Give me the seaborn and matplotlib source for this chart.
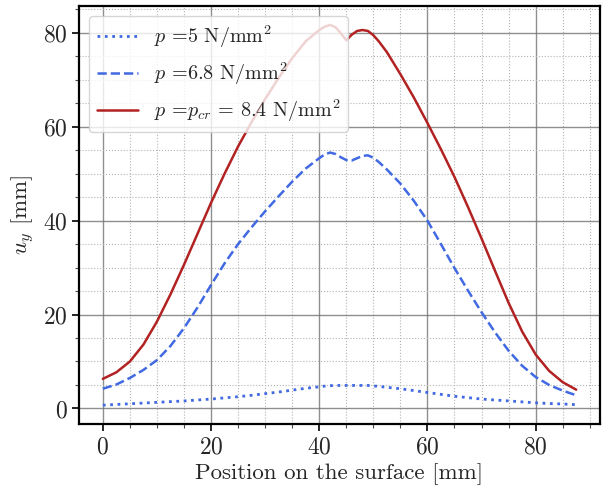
import pandas as pd
import seaborn as sns
from matplotlib import pyplot as plt
from matplotlib.ticker import MultipleLocator

# positions along the surface [mm]
position = [0, 2.5, 5, 7.5, 10, 12.5, 15, 17.5, 20, 22.5, 25, 27.5, 30, 32.5, 35, 37.5,
            40, 41, 42, 43, 44, 45, 46, 47, 48, 49, 50, 51,
            52.5, 55, 57.5, 60, 62.5, 65, 67.5, 70, 72.5, 75, 77.5, 80, 82.5, 85, 87.5]

# u_y [mm] for each pressure
uy_p5 = [0.7, 0.85, 1.0, 1.15, 1.3, 1.45, 1.6, 1.8, 2.0, 2.25, 2.5, 2.8, 3.15, 3.5, 3.9, 4.3,
         4.6, 4.75, 4.85, 4.9, 4.9, 4.9, 4.9, 4.9, 4.9, 4.9, 4.8, 4.7,
         4.5, 4.2, 3.8, 3.4, 3.0, 2.6, 2.3, 2.0, 1.8, 1.6, 1.4, 1.2, 1.05, 0.95, 0.8]
uy_p68 = [4.2, 5.1, 6.5, 8.2, 10.3, 13.3, 17.1, 21.5, 26.3, 30.9, 35.0, 38.6, 42.0, 45.2, 48.3, 51.1,
          53.3, 54.1, 54.5, 54.2, 53.5, 52.9, 52.8, 53.3, 53.8, 53.9, 53.4, 52.5,
          50.9, 47.9, 44.2, 40.0, 35.0, 29.9, 25.1, 20.5, 16.2, 12.3, 9.1, 6.7, 5.0, 3.8, 2.8]
uy_pcr = [6.3, 7.7, 10.0, 13.6, 18.5, 24.3, 30.6, 37.2, 43.8, 50.0, 55.8, 61.0, 65.9, 70.4, 74.6, 78.2,
          80.6, 81.3, 81.7, 81.2, 79.9, 78.4, 79.6, 80.4, 80.6, 80.4, 79.5, 78.2,
          75.9, 71.2, 66.2, 60.8, 55.2, 49.3, 42.9, 36.2, 29.3, 22.5, 16.4, 11.5, 8.0, 5.6, 4.0]

labels = [r'$p$ =5 N/mm$^2$', r'$p$ =6.8 N/mm$^2$', r'$p$ =$p_{cr}$ = 8.4 N/mm$^2$']

df = pd.DataFrame({'pos': position, 'p5': uy_p5, 'p68': uy_p68, 'pcr': uy_pcr})

sns.set_theme(style="ticks")
plt.rcParams['font.family'] = ['cmr10', 'DejaVu Serif']
plt.rcParams['mathtext.fontset'] = 'cm'
plt.rcParams['axes.formatter.use_mathtext'] = True
plt.rcParams['axes.unicode_minus'] = False

fig, ax = plt.subplots(figsize=(6.09, 4.87), dpi=100)
fig.subplots_adjust(left=0.130, right=0.985, bottom=0.129, top=0.988)

sns.lineplot(data=df, x='pos', y='p5', ax=ax, color='royalblue', linestyle=':', lw=2, label=labels[0])
sns.lineplot(data=df, x='pos', y='p68', ax=ax, color='royalblue', linestyle='--', lw=1.8, label=labels[1])
sns.lineplot(data=df, x='pos', y='pcr', ax=ax, color='firebrick', lw=1.8, label=labels[2])

ax.xaxis.set_major_locator(MultipleLocator(20))
ax.yaxis.set_major_locator(MultipleLocator(20))
ax.xaxis.set_minor_locator(MultipleLocator(5))
ax.yaxis.set_minor_locator(MultipleLocator(5))
ax.grid(which='major', color='0.45', lw=1, alpha=0.8)
ax.grid(which='minor', color='0.7', ls=':', lw=0.8)
ax.set_axisbelow(True)
for s in ax.spines.values():
    s.set_linewidth(1.6)
    s.set_color('black')
ax.tick_params(which='major', labelsize=17, length=5, width=1.2, color='black')
ax.tick_params(which='minor', length=3, width=0.8, color='0.3')

ax.set_xlabel('Position on the surface [mm]', fontsize=16.5)
ax.set_ylabel(r'$u_y$ [mm]', fontsize=16.5)
ax.legend(loc='upper left', fontsize=14.5, framealpha=0.8)

fig.savefig('out.png', dpi=100)
